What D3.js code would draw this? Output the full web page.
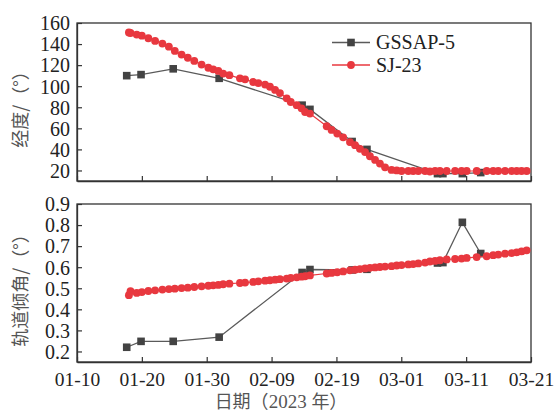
<!DOCTYPE html>
<html>
<head>
<meta charset="utf-8">
<script src="https://cdn.jsdelivr.net/npm/d3@7"></script>
<style>
  body { margin: 0; background: #fff; }
  text { font-family: "Liberation Serif", "Times New Roman", serif; }
</style>
</head>
<body>
<svg id="chart" width="556" height="413"></svg>
<script>
// x tick labels
var tickDates = ["2023-01-10", "2023-01-20", "2023-01-30", "2023-02-09", "2023-02-19", "2023-03-01", "2023-03-11", "2023-03-21"];
var lonTicks = [20, 40, 60, 80, 100, 120, 140, 160];
var incTicks = [0.2, 0.3, 0.4, 0.5, 0.6, 0.7, 0.8, 0.9];
var seriesNames = ["GSSAP-5", "SJ-23"];

// GSSAP-5 observations
var gssapDates = ["2023-01-17T16", "2023-01-19T21", "2023-01-24T20", "2023-01-31T22", "2023-02-13T17", "2023-02-14T22",
                  "2023-02-21T10", "2023-02-23T17", "2023-03-06T14", "2023-03-07T10", "2023-03-10T10", "2023-03-13T06"];
var gssapLon = [110, 111, 116.5, 107.5, 82, 78, 47.5, 40, 17, 17, 17, 18];
var gssapInc = [0.22, 0.248, 0.248, 0.268, 0.575, 0.589, 0.587, 0.59, 0.62, 0.622, 0.813, 0.665];

// SJ-23 observations
var sjDates = ["2023-01-18T00", "2023-01-18T06", "2023-01-19T05", "2023-01-20T00", "2023-01-21T00", "2023-01-22T01",
               "2023-01-23T04", "2023-01-24T04", "2023-01-25T02", "2023-01-26T03", "2023-01-27T02", "2023-01-28T02",
               "2023-01-29T05", "2023-01-30T06", "2023-01-31T00", "2023-01-31T19", "2023-02-01T13", "2023-02-02T12",
               "2023-02-04T03", "2023-02-04T22", "2023-02-06T04", "2023-02-06T23", "2023-02-08T00", "2023-02-08T18",
               "2023-02-09T13", "2023-02-10T07", "2023-02-11T08", "2023-02-11T23", "2023-02-12T21", "2023-02-13T15",
               "2023-02-14T04", "2023-02-14T22", "2023-02-17T12", "2023-02-18T06", "2023-02-19T03", "2023-02-20T01",
               "2023-02-21T02", "2023-02-21T21", "2023-02-22T15", "2023-02-23T10", "2023-02-24T04", "2023-02-24T23",
               "2023-02-25T17", "2023-02-26T12", "2023-02-27T12", "2023-02-28T07", "2023-03-01T01", "2023-03-02T02",
               "2023-03-02T20", "2023-03-03T15", "2023-03-04T16", "2023-03-05T10", "2023-03-06T05", "2023-03-06T23",
               "2023-03-08T00", "2023-03-09T07", "2023-03-10T07", "2023-03-11T02", "2023-03-12T15", "2023-03-14T04",
               "2023-03-15T04", "2023-03-15T23", "2023-03-17T00", "2023-03-18T00", "2023-03-18T19", "2023-03-19T13",
               "2023-03-20T08"];
var sjLon = [151, 150.5, 149, 148, 145.5, 143, 140.5, 137.5, 133.5, 130, 127, 124,
             120.5, 117.5, 116, 114.5, 112, 110.5, 107.5, 106.5, 104, 103, 101.5, 99.5,
             96.5, 93.5, 88.5, 85, 82, 79, 75.5, 74, 62, 58.5, 55, 51.5,
             47, 44, 40.5, 37.5, 33.5, 30, 26.5, 23, 20.5, 20, 19.5, 19.5,
             19.5, 19.5, 19.5, 19, 19.5, 19.5, 19.5, 19.5, 19.5, 19.5, 19.5, 19.5,
             19.5, 19.5, 19.5, 19.5, 19.5, 19.5, 19.5];
var sjInc = [0.467, 0.486, 0.478, 0.482, 0.487, 0.490, 0.494, 0.496, 0.498, 0.501, 0.503, 0.506,
             0.509, 0.512, 0.514, 0.516, 0.519, 0.522, 0.525, 0.527, 0.530, 0.533, 0.536, 0.538,
             0.541, 0.543, 0.546, 0.549, 0.552, 0.555, 0.557, 0.561, 0.570, 0.573, 0.576, 0.580,
             0.585, 0.588, 0.591, 0.594, 0.597, 0.599, 0.601, 0.603, 0.605, 0.608, 0.610, 0.613,
             0.615, 0.618, 0.622, 0.627, 0.630, 0.633, 0.637, 0.639, 0.641, 0.644, 0.648, 0.652,
             0.657, 0.660, 0.664, 0.667, 0.670, 0.675, 0.680];

var parseT = d3.timeParse("%Y-%m-%dT%H");
var parseD = d3.timeParse("%Y-%m-%d");

var svg = d3.select("#chart");
var left = 77, right = 531;
var panels = [
  {top: 23, bottom: 181, domain: [10, 160], ticks: lonTicks, fmt: d3.format("d"), title: "经度/（°）",
   g: gssapLon, s: sjLon, labels: false},
  {top: 204, bottom: 362, domain: [0.15, 0.9], ticks: incTicks, fmt: d3.format(".1f"), title: "轨道倾角/（°）",
   g: gssapInc, s: sjInc, labels: true}
];

var x = d3.scaleTime()
  .domain([parseD(tickDates[0]), parseD(tickDates[tickDates.length - 1])])
  .range([left, right]);

var red = "#e8383f", dark = "#434343";

panels.forEach(function(p) {
  var y = d3.scaleLinear().domain(p.domain).range([p.bottom, p.top]);
  var g = svg.append("g");

  // frame
  g.append("rect").attr("x", left).attr("y", p.top)
    .attr("width", right - left).attr("height", p.bottom - p.top)
    .attr("fill", "none").attr("stroke", "#333").attr("stroke-width", 1.3);

  var xa = g.append("g").attr("transform", "translate(0," + p.bottom + ")")
    .call(d3.axisBottom(x).tickValues(tickDates.map(parseD))
      .tickSizeInner(-5).tickSizeOuter(0).tickPadding(10)
      .tickFormat(p.labels ? d3.timeFormat("%m-%d") : function() { return ""; }));
  var ya = g.append("g").attr("transform", "translate(" + left + ",0)")
    .call(d3.axisLeft(y).tickValues(p.ticks).tickSizeInner(-5).tickSizeOuter(0).tickPadding(7).tickFormat(p.fmt));
  [xa, ya].forEach(function(a) {
    a.select(".domain").attr("stroke", "#333").attr("stroke-width", 1.3);
    a.selectAll(".tick line").attr("stroke", "#333").attr("stroke-width", 1.2);
    a.selectAll("text").attr("font-size", 20).attr("fill", "#222")
      .style("font-family", "'Liberation Serif', serif");
  });
  xa.selectAll("text").attr("font-size", 19.5);
  ya.selectAll("text").attr("dy", "0.34em");

  g.append("text")
    .attr("transform", "translate(27," + ((p.top + p.bottom) / 2 + 3) + ") rotate(-90)")
    .attr("text-anchor", "middle").attr("font-size", 18).attr("fill", "#555")
    .style("font-family", "'Noto Sans CJK SC', sans-serif")
    .text(p.title);

  // GSSAP-5
  var gd = gssapDates.map(function(d, i) { return {t: parseT(d), v: p.g[i]}; });
  var line = d3.line().x(function(d) { return x(d.t); }).y(function(d) { return y(d.v); });
  g.append("path").datum(gd).attr("d", line)
    .attr("fill", "none").attr("stroke", "#5a5a5a").attr("stroke-width", 1.3);
  g.selectAll("rect.sq").data(gd).enter().append("rect").attr("class", "sq")
    .attr("x", function(d) { return x(d.t) - 3.8; })
    .attr("y", function(d) { return y(d.v) - 3.8; })
    .attr("width", 7.6).attr("height", 7.6).attr("fill", dark);

  // SJ-23
  var sd = sjDates.map(function(d, i) { return {t: parseT(d), v: p.s[i]}; });
  g.append("path").datum(sd).attr("d", line)
    .attr("fill", "none").attr("stroke", red).attr("stroke-width", 1.2);
  g.selectAll("circle.dot").data(sd).enter().append("circle").attr("class", "dot")
    .attr("cx", function(d) { return x(d.t); })
    .attr("cy", function(d) { return y(d.v); })
    .attr("r", 3.9).attr("fill", red);
});

// legend
var leg = svg.append("g");
seriesNames.forEach(function(n, i) {
  var ly = 42.5 + i * 22.5;
  leg.append("line").attr("x1", 332).attr("x2", 370).attr("y1", ly).attr("y2", ly)
    .attr("stroke", i === 0 ? "#5a5a5a" : red).attr("stroke-width", 1.3);
  if (i === 0) {
    leg.append("rect").attr("x", 351 - 3.8).attr("y", ly - 3.8).attr("width", 7.6).attr("height", 7.6).attr("fill", dark);
  } else {
    leg.append("circle").attr("cx", 351).attr("cy", ly).attr("r", 3.9).attr("fill", red);
  }
  leg.append("text").attr("x", 376).attr("y", ly).attr("dy", "0.34em")
    .attr("font-size", 20).attr("fill", "#222").text(n);
});

// x title
var xt = svg.append("text").attr("x", 281).attr("y", 408).attr("text-anchor", "middle")
  .attr("font-size", 18).attr("fill", "#555")
  .style("font-family", "'Noto Sans CJK SC', sans-serif");
xt.append("tspan").text("日期（");
xt.append("tspan").style("font-family", "'Liberation Serif', serif").attr("font-size", 19).text("2023 ");
xt.append("tspan").text("年）");
</script>
</body>
</html>
